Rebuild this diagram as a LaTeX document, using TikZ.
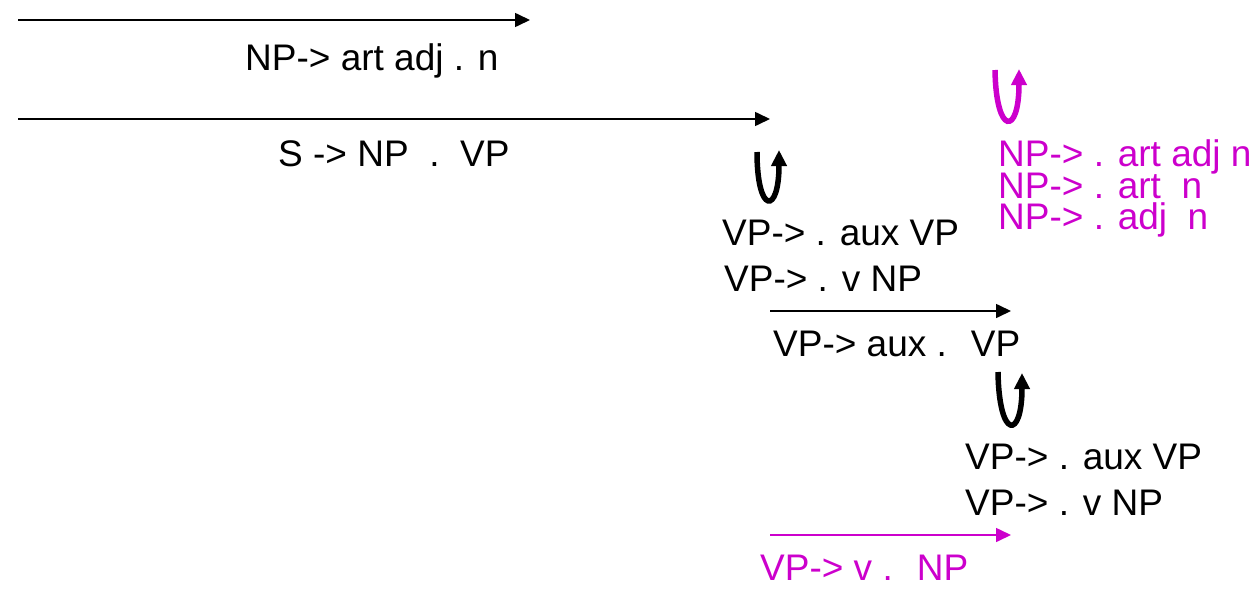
\documentclass[tikz,border=0pt]{standalone}
\usepackage{fontspec}
\setmainfont{Liberation Sans}
\usetikzlibrary{arrows.meta}
\definecolor{mag}{HTML}{CC00CC}
\tikzset{
  lbl/.style={anchor=base west, inner sep=0pt, font=\fontsize{37}{44}\selectfont},
  hl/.style={text=mag},
  arr/.style={line width=1.6pt, -{Triangle[length=15pt,width=14pt]}},
  uturn/.style={line width=5.5pt, -{Triangle[length=16pt,width=15pt]}},
}
\begin{document}
\begin{tikzpicture}[x=1pt,y=-1pt]
\useasboundingbox (0,0) rectangle (1257,589);
% straight arrows
\coordinate (a1s) at (18,20);  \coordinate (a1e) at (530,20);
\coordinate (a2s) at (18,119); \coordinate (a2e) at (770,119);
\coordinate (a3s) at (770,311); \coordinate (a3e) at (1011,311);
\coordinate (a4s) at (770,535); \coordinate (a4e) at (1011,535);
\draw[arr] (a1s) -- (a1e);
\draw[arr] (a2s) -- (a2e);
\draw[arr] (a3s) -- (a3e);
\draw[arr, mag] (a4s) -- (a4e);
% labels
\node[lbl] (np1) at (245,70) {NP-> art adj . n};
\node[lbl] (s1) at (278,166) {S -> NP~ .~ VP};
\node[lbl] (vp1) at (722,245) {VP-> . aux VP};
\node[lbl] (vp2) at (724,291) {VP-> . v NP};
\node[lbl] (vp3) at (773,356) {VP-> aux .~ VP};
\node[lbl] (vp4) at (965,469) {VP-> . aux VP};
\node[lbl] (vp5) at (965,515) {VP-> . v NP};
\node[lbl, hl] (vp6) at (760,580) {VP-> v .~ NP};
\node[lbl, hl] (np2) at (998,166) {NP-> . art adj n};
\node[lbl, hl] (np3) at (998,198) {NP-> . art~ n};
\node[lbl, hl] (np4) at (998,229) {NP-> . adj~ n};
% u-turn arrows
\coordinate (u1a) at (757,152);
\coordinate (u1b) at (779,150);
\draw[uturn] (u1a) .. controls (757,215) and (779,215) .. (u1b);
\coordinate (u2a) at (995,70);
\coordinate (u2b) at (1019,69);
\draw[uturn, mag] (u2a) .. controls (996,136) and (1019,136) .. (u2b);
\coordinate (u3a) at (998,372);
\coordinate (u3b) at (1022,373);
\draw[uturn] (u3a) .. controls (999,440) and (1022,440) .. (u3b);
\end{tikzpicture}
\end{document}
